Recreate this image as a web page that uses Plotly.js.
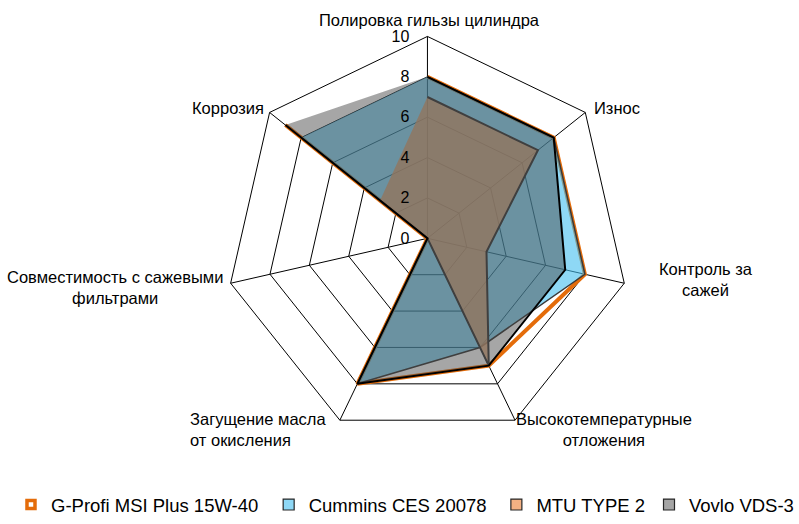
<!DOCTYPE html>
<html>
<head>
<meta charset="utf-8">
<script src="https://cdn.plot.ly/plotly-3.0.1.min.js"></script>
<style>html,body{margin:0;padding:0;background:#fff;}#chart{width:799px;height:524px;}</style>
</head>
<body>
<div id="chart"></div>
<script>
const categories = [
  "Полировка гильзы цилиндра",
  "Износ",
  "Контроль за<br>сажей",
  "Высокотемпературные<br>отложения",
  "Загущение масла<br>от окисления",
  "Совместимость с сажевыми<br>фильтрами",
  "Коррозия"
];
const seriesNames = ["G-Profi MSI Plus 15W-40", "Cummins CES 20078", "MTU TYPE 2", "Vovlo VDS-3"];
const gprofi  = [8, 8, 8, 7, 8, 0, 9];
const cummins = [8, 8, 8, 6, 8, 0, 8];
const mtu     = [7, 7, 3, 7, 0, 0, 3];
const vovlo   = [8, 8, 7, 7, 8, 0, 9];
const radialTicks = [0, 2, 4, 6, 8, 10];

// label placement (pixels in the 799x524 page) for the category labels
const labelPos = [
  {x: 430, y: 20, xa: "center", al: "center"},
  {x: 618, y: 110, xa: "center", al: "center"},
  {x: 707, y: 284, xa: "center", al: "center"},
  {x: 605, y: 436, xa: "center", al: "center"},
  {x: 188, y: 436, xa: "left", al: "left"},
  {x: 115, y: 292, xa: "center", al: "center"},
  {x: 228, y: 110, xa: "center", al: "center"}
];
const legendLeft = [11, 269, 497, 650];
const W = 799, H = 524;

function trace(name, r, fillcolor, linecolor, width) {
  return {
    type: "scatterpolar", name: name, theta: categories, r: r, mode: "lines",
    fill: fillcolor ? "toself" : "none", fillcolor: fillcolor || undefined,
    line: {color: linecolor, width: width}, hoverinfo: "skip", showlegend: false
  };
}
function legendTrace(name, color, linecolor, lw, size, legendId) {
  return {
    type: "scatterpolar", name: name, theta: [categories[0]], r: [null], mode: "markers",
    marker: {symbol: "square", size: size, color: color, line: {color: linecolor, width: lw}},
    showlegend: true, hoverinfo: "skip", legend: legendId
  };
}

const data = [
  trace(seriesNames[0], gprofi, null, "#E46C0A", 4),
  trace(seriesNames[1], cummins, "rgba(67,190,238,0.6)", "#3a3a3a", 1.5),
  trace(seriesNames[2], mtu, "rgba(218,161,116,0.8)", "#3a3a3a", 2),
  trace(seriesNames[3], vovlo, "rgba(69,69,69,0.48)", "#000000", 2),
  legendTrace(seriesNames[0], "#ffffff", "#E46C0A", 3.5, 8, "legend"),
  legendTrace(seriesNames[1], "#8ED8F6", "#262626", 1.2, 11, "legend2"),
  legendTrace(seriesNames[2], "#F4B183", "#262626", 1.2, 11, "legend3"),
  legendTrace(seriesNames[3], "#A5A5A5", "#262626", 1.2, 11, "legend4")
];

const annotations = categories.map((c, i) => ({
  text: c, xref: "paper", yref: "paper",
  x: labelPos[i].x / W, y: 1 - labelPos[i].y / H,
  xanchor: labelPos[i].xa, yanchor: "middle", align: labelPos[i].al,
  showarrow: false, font: {size: 16.5, color: "#000"}
}));

function legendBox(i) {
  return {orientation: "h", x: legendLeft[i] / W, xanchor: "left", y: 1 - 513 / H, yanchor: "middle",
          font: {size: 18.5}, itemwidth: 30, bgcolor: "rgba(0,0,0,0)", borderwidth: 0};
}

const layout = {
  width: W, height: H,
  margin: {l: 0, r: 0, t: 0, b: 0},
  paper_bgcolor: "#ffffff",
  font: {family: "Liberation Sans, Arial, sans-serif", size: 16, color: "#000"},
  showlegend: true,
  legend: legendBox(0), legend2: legendBox(1), legend3: legendBox(2), legend4: legendBox(3),
  annotations: annotations,
  polar: {
    domain: {x: [0.2791, 0.7922], y: [0.1469, 0.9294]},
    bgcolor: "rgba(0,0,0,0)",
    gridshape: "linear",
    radialaxis: {
      range: [0, 10], tickvals: radialTicks, ticktext: radialTicks.map(String),
      angle: 90, tickangle: 90, side: "counterclockwise",
      showline: false, ticks: "outside", ticklen: 12, tickcolor: "rgba(0,0,0,0)",
      gridcolor: "#000", gridwidth: 1, tickfont: {size: 16}
    },
    angularaxis: {
      direction: "clockwise", rotation: 90,
      categoryorder: "array", categoryarray: categories,
      showline: true, linecolor: "#000", linewidth: 1,
      gridcolor: "#000", gridwidth: 1, ticks: "", showticklabels: false
    }
  }
};

Plotly.newPlot("chart", data, layout, {staticPlot: true});
</script>
</body>
</html>
